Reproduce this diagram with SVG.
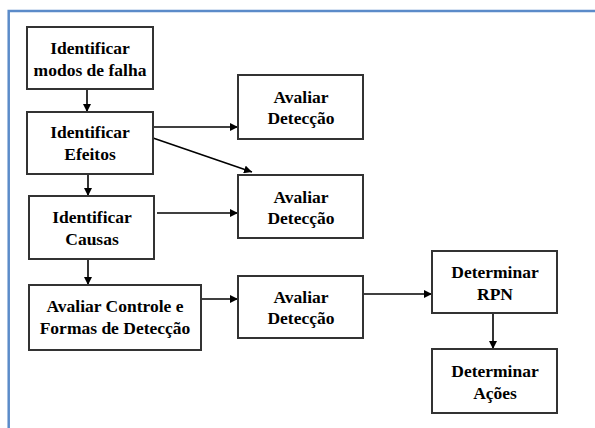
<svg xmlns="http://www.w3.org/2000/svg" width="595" height="428" viewBox="0 0 595 428">
<defs>
<style>
.box{fill:#fff;stroke:#333;stroke-width:2}
.t{font-family:"Liberation Serif","Times New Roman",serif;font-weight:bold;font-size:17.5px;fill:#000;text-anchor:middle}
.c{stroke:#000;stroke-width:1.6;fill:none;marker-end:url(#ah)}
</style>
<marker id="ah" viewBox="0 0 10 10" refX="10" refY="5" markerWidth="5" markerHeight="5" orient="auto" markerUnits="strokeWidth">
<path d="M0,0 L10,5 L0,10 z" fill="#000"/>
</marker>
</defs>
<rect width="595" height="428" fill="#fff"/>
<path d="M8.7,428 V11 H595" fill="none" stroke="#5b8bc9" stroke-width="2.5"/>
<g id="connectors">
<line class="c" x1="87" y1="89" x2="87" y2="112"/>
<line class="c" x1="88" y1="174" x2="88" y2="196"/>
<line class="c" x1="88" y1="259" x2="88" y2="285"/>
<line class="c" x1="153" y1="127" x2="238" y2="127"/>
<line class="c" x1="153" y1="138" x2="252" y2="172"/>
<line class="c" x1="157" y1="213" x2="238" y2="213"/>
<line class="c" x1="201" y1="299" x2="238" y2="299"/>
<line class="c" x1="363" y1="294" x2="432" y2="294"/>
<line class="c" x1="493" y1="313" x2="493" y2="349"/>
</g>
<g id="n1"><rect class="box" x="27" y="27" width="126" height="62"/><text class="t" x="90" y="54">Identificar</text><text class="t" x="90" y="76">modos de falha</text></g>
<g id="n2"><rect class="box" x="27" y="112" width="126" height="62"/><text class="t" x="90" y="138">Identificar</text><text class="t" x="90" y="160">Efeitos</text></g>
<g id="n3"><rect class="box" x="29" y="196" width="125" height="63"/><text class="t" x="92" y="223">Identificar</text><text class="t" x="92" y="245">Causas</text></g>
<g id="n4"><rect class="box" x="29" y="285" width="172" height="65"/><text class="t" x="115" y="312">Avaliar Controle e</text><text class="t" x="115" y="334">Formas de Detecção</text></g>
<g id="a1"><rect class="box" x="238" y="75" width="125" height="64"/><text class="t" x="301" y="103">Avaliar</text><text class="t" x="301" y="124">Detecção</text></g>
<g id="a2"><rect class="box" x="238" y="175" width="125" height="63"/><text class="t" x="301" y="203">Avaliar</text><text class="t" x="301" y="224">Detecção</text></g>
<g id="a3"><rect class="box" x="238" y="276" width="125" height="62"/><text class="t" x="301" y="303">Avaliar</text><text class="t" x="301" y="324">Detecção</text></g>
<g id="rpn"><rect class="box" x="432" y="251" width="125" height="62"/><text class="t" x="495" y="278">Determinar</text><text class="t" x="495" y="300">RPN</text></g>
<g id="acoes"><rect class="box" x="432" y="349" width="125" height="64"/><text class="t" x="495" y="377">Determinar</text><text class="t" x="495" y="399">Ações</text></g>
</svg>
